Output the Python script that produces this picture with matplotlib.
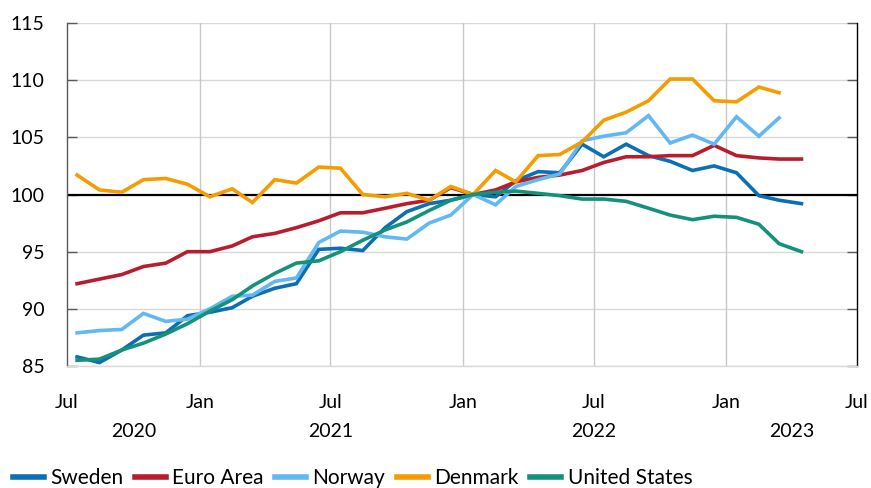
import matplotlib
matplotlib.use("Agg")
import matplotlib.pyplot as plt
import matplotlib.transforms as mtransforms
import pandas as pd
import numpy as np

plt.rcParams['font.family'] = ['Lato', 'DejaVu Sans']

# ---- data (index, Jan 2022 = 100), monthly from Jul 2020 ----
start_month = "2020-07"
sweden = [85.8, 85.3, 86.4, 87.7, 87.9, 89.4, 89.7, 90.1, 91.1, 91.8, 92.2, 95.2,
          95.3, 95.1, 97.1, 98.5, 99.2, 99.5, 100.0, 99.8, 101.2, 102.0, 101.9, 104.4,
          103.3, 104.4, 103.4, 102.9, 102.1, 102.5, 101.9, 99.9, 99.5, 99.2]
euro_area = [92.2, 92.6, 93.0, 93.7, 94.0, 95.0, 95.0, 95.5, 96.3, 96.6, 97.1, 97.7,
             98.4, 98.4, 98.8, 99.2, 99.5, 100.6, 100.0, 100.4, 101.1, 101.5, 101.7, 102.1,
             102.8, 103.3, 103.3, 103.4, 103.4, 104.3, 103.4, 103.2, 103.1, 103.1]
norway = [87.9, 88.1, 88.2, 89.6, 88.9, 89.1, 90.0, 91.1, 91.2, 92.4, 92.7, 95.8,
          96.8, 96.7, 96.3, 96.1, 97.5, 98.2, 100.0, 99.1, 100.7, 101.3, 101.8, 104.7,
          105.1, 105.4, 106.9, 104.5, 105.2, 104.4, 106.8, 105.1, 106.7]
denmark = [101.7, 100.4, 100.2, 101.3, 101.4, 100.9, 99.8, 100.5, 99.3, 101.3, 101.0, 102.4,
           102.3, 100.0, 99.8, 100.1, 99.5, 100.7, 100.0, 102.1, 101.1, 103.4, 103.5, 104.6,
           106.5, 107.2, 108.2, 110.1, 110.1, 108.2, 108.1, 109.4, 108.9]
united_states = [85.5, 85.6, 86.4, 87.0, 87.8, 88.7, 89.8, 90.8, 92.0, 93.1, 94.0, 94.2,
                 95.0, 96.0, 96.9, 97.6, 98.6, 99.5, 100.0, 100.2, 100.3, 100.1, 99.9, 99.6,
                 99.6, 99.4, 98.8, 98.2, 97.8, 98.1, 98.0, 97.4, 95.7, 95.0]

series_names = ["Sweden", "Euro Area", "Norway", "Denmark", "United States"]
series_values = [sweden, euro_area, norway, denmark, united_states]
series_colors = ["#0a6fb4", "#b81d2e", "#61b8f2", "#f59c00", "#14917b"]

y_ticks = [85, 90, 95, 100, 105, 110, 115]
x_tick_dates = ["2020-07-01", "2021-01-01", "2021-07-01", "2022-01-01",
                "2022-07-01", "2023-01-01", "2023-07-01"]
x_tick_labels = ["Jul", "Jan", "Jul", "Jan", "Jul", "Jan", "Jul"]
year_labels = ["2020", "2021", "2022", "2023"]
year_label_dates = ["2020-10-01", "2021-07-01", "2022-07-01", "2023-04-01"]

# ---- figure ----
W, H = 871, 488
fig = plt.figure(figsize=(W / 100, H / 100), dpi=100)
ax = fig.add_axes([67 / W, 1 - 366 / H, (857 - 67) / W, (366 - 23) / H])

months = pd.period_range(start=start_month, periods=34, freq="M")
mid_dates = months.to_timestamp(how="start") + pd.Timedelta(days=14)

for name, vals, col in zip(series_names, series_values, series_colors):
    ax.plot(mid_dates[:len(vals)], vals, color=col, lw=2.6, label=name,
            solid_joinstyle="miter", zorder=3)

ax.set_xlim(pd.Timestamp(x_tick_dates[0]), pd.Timestamp(x_tick_dates[-1]))
ax.set_ylim(y_ticks[0], y_ticks[-1])

# grid
for yv in y_ticks:
    if yv == 100:
        ax.axhline(yv, color="black", lw=1.6, zorder=2)
    else:
        ax.axhline(yv, color="#d9d9d9", lw=1.0, zorder=1)
for d in x_tick_dates[1:-1]:
    ax.axvline(pd.Timestamp(d), color="#c8c8c8", lw=1.0, zorder=1)

# spines
ax.spines["top"].set_visible(False)
ax.spines["bottom"].set_color("#d9d9d9")
ax.spines["left"].set_color("#595959")
ax.spines["right"].set_color("black")
for s in ["left", "right", "bottom"]:
    ax.spines[s].set_linewidth(1.0)

ax.set_yticks(y_ticks)
ax.set_yticklabels([str(v) for v in y_ticks])
ax.tick_params(axis="y", direction="in", length=7.5, width=1.0, color="#595959",
               labelsize=14, pad=16, right=True, labelright=False, labelcolor="black")
ax.set_xticks([pd.Timestamp(d) for d in x_tick_dates])
ax.set_xticklabels(x_tick_labels)
ax.tick_params(axis="x", length=0, labelsize=14, pad=20)

trans = mtransforms.blended_transform_factory(ax.transData, ax.transAxes)
for lab, d in zip(year_labels, year_label_dates):
    ax.text(pd.Timestamp(d), -0.19, lab, transform=trans, ha="center", va="center",
            fontsize=14)

leg = fig.legend(loc="lower left", bbox_to_anchor=(0.0, -0.026), ncol=5, frameon=False,
                 fontsize=15, handlelength=1.5, handletextpad=0.3, columnspacing=0.55,
                 borderaxespad=0.2)
for h in leg.get_lines():
    h.set_linewidth(4)

fig.savefig("out.png", dpi=100)
